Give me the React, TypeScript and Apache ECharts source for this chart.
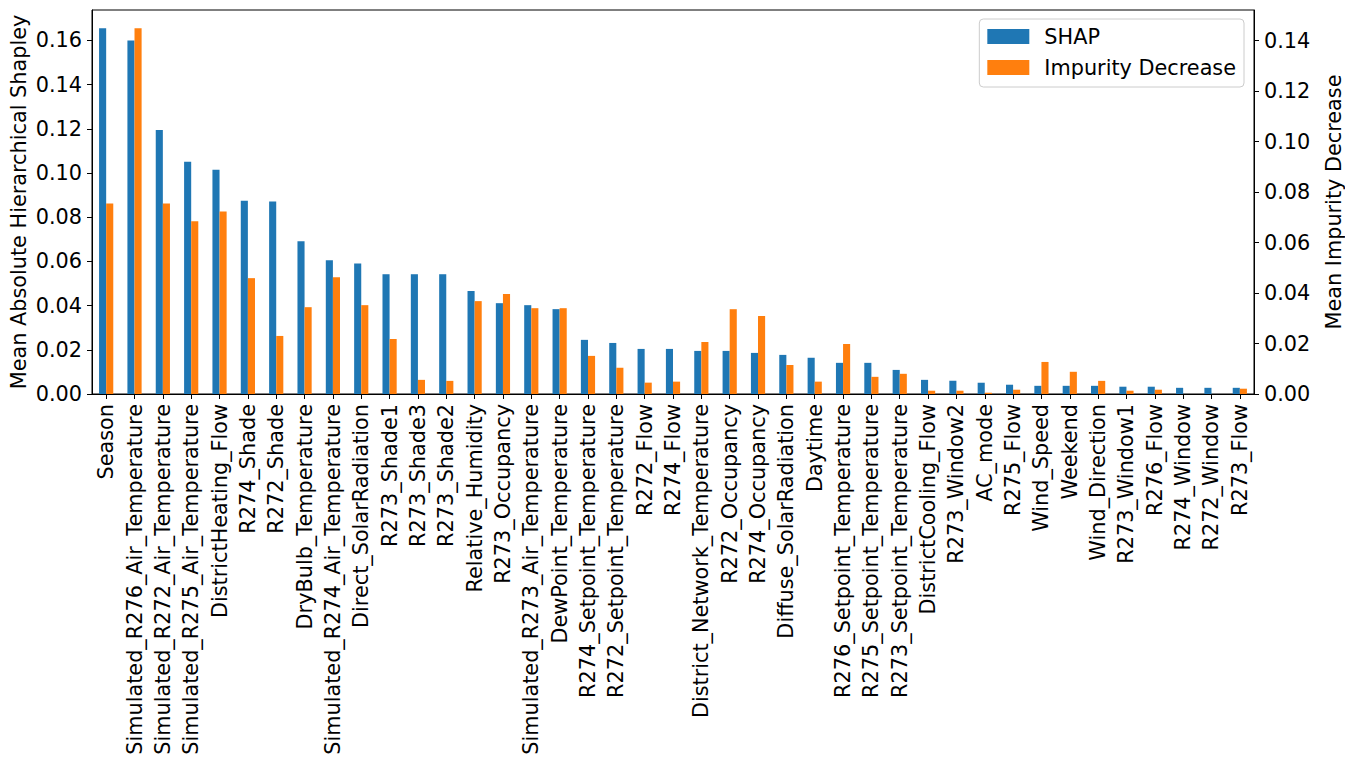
import React, { useEffect, useRef } from "react";
import * as echarts from "echarts";

const categories = [
  "Season",
  "Simulated_R276_Air_Temperature",
  "Simulated_R272_Air_Temperature",
  "Simulated_R275_Air_Temperature",
  "DistrictHeating_Flow",
  "R274_Shade",
  "R272_Shade",
  "DryBulb_Temperature",
  "Simulated_R274_Air_Temperature",
  "Direct_SolarRadiation",
  "R273_Shade1",
  "R273_Shade3",
  "R273_Shade2",
  "Relative_Humidity",
  "R273_Occupancy",
  "Simulated_R273_Air_Temperature",
  "DewPoint_Temperature",
  "R274_Setpoint_Temperature",
  "R272_Setpoint_Temperature",
  "R272_Flow",
  "R274_Flow",
  "District_Network_Temperature",
  "R272_Occupancy",
  "R274_Occupancy",
  "Diffuse_SolarRadiation",
  "Daytime",
  "R276_Setpoint_Temperature",
  "R275_Setpoint_Temperature",
  "R273_Setpoint_Temperature",
  "DistrictCooling_Flow",
  "R273_Window2",
  "AC_mode",
  "R275_Flow",
  "Wind_Speed",
  "Weekend",
  "Wind_Direction",
  "R273_Window1",
  "R276_Flow",
  "R274_Window",
  "R272_Window",
  "R273_Flow",
];

const shapValues = [
  0.1655, 0.16, 0.1195, 0.1051, 0.1015, 0.0875, 0.0871, 0.0691, 0.0605, 0.0591,
  0.0542, 0.0542, 0.0542, 0.0466, 0.0411, 0.0402, 0.0384, 0.0245, 0.0231, 0.0204,
  0.0204, 0.0195, 0.0195, 0.0186, 0.0177, 0.0164, 0.0141, 0.0141, 0.0109, 0.0064,
  0.006, 0.0051, 0.0042, 0.0037, 0.0037, 0.0037, 0.0033, 0.0033, 0.0028, 0.0028,
  0.0028,
];

const impurityValues = [
  0.0755, 0.1449, 0.0755, 0.0684, 0.0723, 0.0459, 0.023, 0.0344, 0.0463, 0.0352,
  0.0218, 0.0056, 0.0052, 0.0368, 0.0396, 0.034, 0.034, 0.0151, 0.0104, 0.0045,
  0.0049, 0.0206, 0.0336, 0.0309, 0.0115, 0.0049, 0.0198, 0.0068, 0.008, 0.0013,
  0.0013, 0.0005, 0.0017, 0.0127, 0.0088, 0.0052, 0.0013, 0.0017, 0, 0,
  0.0021,
];

const leftTicks = [0, 0.02, 0.04, 0.06, 0.08, 0.1, 0.12, 0.14, 0.16];
const rightTicks = [0, 0.02, 0.04, 0.06, 0.08, 0.1, 0.12, 0.14];

const FONT = "DejaVu Sans";
const FS = 20.8;

export default function App() {
  const ref = useRef<HTMLDivElement>(null);
  useEffect(() => {
    if (!ref.current) return;
    const chart = echarts.init(ref.current, null, { renderer: "svg" });
    const leftMax = Math.max(...shapValues) * 1.05;
    const rightMax = Math.max(...impurityValues) * 1.05;
    chart.setOption({
      animation: false,
      backgroundColor: "#ffffff",
      textStyle: { fontFamily: FONT },
      grid: {
        left: 92,
        right: 91,
        top: 10,
        bottom: 371,
        show: true,
        borderColor: "#000",
        borderWidth: 1,
        backgroundColor: "transparent",
        containLabel: false,
        outerBoundsMode: "none",
      },
      legend: {
        orient: "vertical",
        right: 101,
        top: 19,
        data: ["SHAP", "Impurity Decrease"],
        itemWidth: 42,
        itemHeight: 15,
        itemGap: 10,
        borderColor: "#cccccc",
        borderWidth: 1,
        borderRadius: 4,
        padding: [7, 8, 9, 8],
        backgroundColor: "rgba(255,255,255,0.8)",
        icon: "rect",
        textStyle: {
          fontFamily: FONT,
          fontSize: FS,
          color: "#000",
          padding: [0, 0, 0, 10],
        },
      },
      xAxis: {
        type: "category",
        data: categories,
        axisLine: { show: true, lineStyle: { color: "#000", width: 1 } },
        axisTick: {
          show: true,
          alignWithLabel: true,
          length: 5,
          lineStyle: { color: "#000" },
        },
        axisLabel: {
          rotate: 90,
          interval: 0,
          margin: 10,
          fontFamily: FONT,
          fontSize: FS,
          color: "#000",
        },
        splitLine: { show: false },
      },
      yAxis: [
        {
          type: "value",
          position: "left",
          min: 0,
          max: leftMax,
          name: "Mean Absolute Hierarchical Shapley",
          nameLocation: "middle",
          nameRotate: 90,
          nameGap: 63,
          nameMoveOverlap: false,
          nameTextStyle: { fontFamily: FONT, fontSize: FS, color: "#000" },
          axisLine: { show: true, lineStyle: { color: "#000", width: 1 } },
          axisTick: {
            show: true,
            length: 5,
            lineStyle: { color: "#000" },
            customValues: leftTicks,
          },
          axisLabel: {
            margin: 10,
            fontFamily: FONT,
            fontSize: FS,
            color: "#000",
            customValues: leftTicks,
            formatter: (v: number) => v.toFixed(2),
          },
          splitLine: { show: false },
        },
        {
          type: "value",
          position: "right",
          min: 0,
          max: rightMax,
          name: "Mean Impurity Decrease",
          nameLocation: "middle",
          nameRotate: 90,
          nameGap: 69,
          nameMoveOverlap: false,
          nameTextStyle: { fontFamily: FONT, fontSize: FS, color: "#000" },
          axisLine: { show: true, lineStyle: { color: "#000", width: 1 } },
          axisTick: {
            show: true,
            length: 5,
            lineStyle: { color: "#000" },
            customValues: rightTicks,
          },
          axisLabel: {
            margin: 10,
            fontFamily: FONT,
            fontSize: FS,
            color: "#000",
            customValues: rightTicks,
            formatter: (v: number) => v.toFixed(2),
          },
          splitLine: { show: false },
        },
      ],
      series: [
        {
          name: "SHAP",
          type: "bar",
          yAxisIndex: 0,
          data: shapValues,
          barWidth: 7.1,
          barGap: "0%",
          itemStyle: { color: "#1f77b4" },
        },
        {
          name: "Impurity Decrease",
          type: "bar",
          yAxisIndex: 1,
          data: impurityValues,
          barWidth: 7.1,
          barGap: "0%",
          itemStyle: { color: "#ff7f0e" },
        },
      ],
    });
    return () => chart.dispose();
  }, []);
  return (
    <div
      ref={ref}
      style={{ position: "absolute", left: 0, top: 0, width: 1345, height: 765 }}
    />
  );
}
